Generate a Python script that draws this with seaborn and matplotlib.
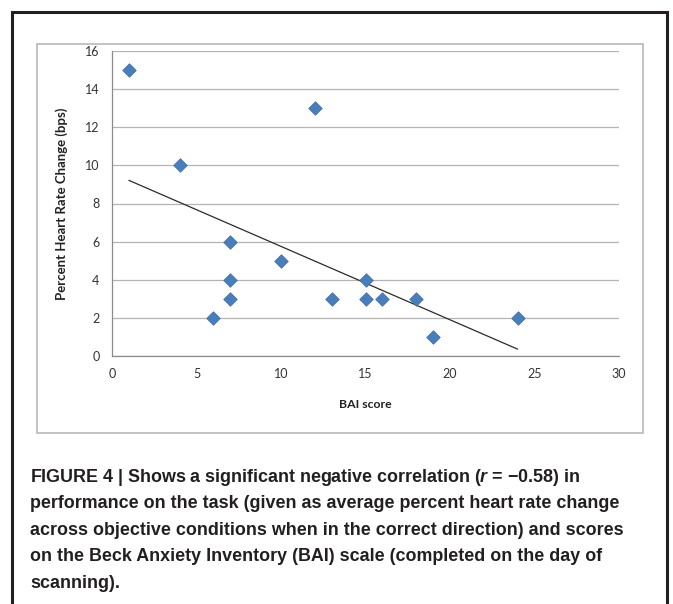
import numpy as np
import pandas as pd
import matplotlib
matplotlib.use("Agg")
import matplotlib.pyplot as plt
from matplotlib.patches import Rectangle
import seaborn as sns

# values
bai_score = [1, 4, 6, 7, 7, 7, 10, 12, 13, 15, 15, 16, 18, 19, 24]
hr_change = [15, 10, 2, 6, 4, 3, 5, 13, 3, 4, 3, 3, 3, 1, 2]
x_ticks = [0, 5, 10, 15, 20, 25, 30]
y_ticks = [0, 2, 4, 6, 8, 10, 12, 14, 16]
caption = [
    r"FIGURE 4 | Shows a significant negative correlation ($\mathit{r}$ = −0.58) in",
    "performance on the task (given as average percent heart rate change",
    "across objective conditions when in the correct direction) and scores",
    "on the Beck Anxiety Inventory (BAI) scale (completed on the day of",
    "scanning).",
]

df = pd.DataFrame({"BAI score": bai_score, "HR change": hr_change})

sns.set_style("white")
plt.rcParams["font.family"] = ["Lato", "DejaVu Sans"]
plt.rcParams["mathtext.fontset"] = "custom"
plt.rcParams["mathtext.it"] = "Liberation Sans:italic:bold"
plt.rcParams["mathtext.rm"] = "Liberation Sans:bold"

W, H = 673, 604
fig = plt.figure(figsize=(W / 100, H / 100), dpi=100)

# outer black frame and inner grey chart box (pixel coords -> figure fraction)
fig.patches.append(Rectangle((12 / W, -0.05), 655 / W, 1 - 12 / H + 0.05,
                             transform=fig.transFigure, fill=False,
                             edgecolor="#231f20", linewidth=2.2))
fig.patches.append(Rectangle((37 / W, 1 - 433 / H), 606 / W, 389 / H,
                             transform=fig.transFigure, fill=False,
                             edgecolor="#b8b8b8", linewidth=1.2))

ax = fig.add_axes([112 / W, 1 - 356 / H, 507 / W, 305 / H])
sns.scatterplot(data=df, x="BAI score", y="HR change", marker="D", s=48,
                color="#4a7ebb", edgecolor="#3f6fa8", linewidth=0.5, ax=ax, zorder=3)
sns.regplot(data=df, x="BAI score", y="HR change", scatter=False, ci=None,
            line_kws={"color": "#2b2b2b", "linewidth": 0.9}, ax=ax)

ax.set_xlim(0, 30)
ax.set_ylim(0, 16)
ax.set_xticks(x_ticks)
ax.set_yticks(y_ticks)
ax.tick_params(axis="both", labelsize=9, colors="#333333", length=4,
               width=0.8, direction="out", pad=5)
ax.tick_params(axis="x", color="#8c8c8c")
ax.tick_params(axis="y", color="#8c8c8c")
ax.yaxis.grid(True, color="#b4b4b4", linewidth=0.9)
ax.set_axisbelow(True)
for s in ["top", "right"]:
    ax.spines[s].set_visible(False)
for s in ["left", "bottom"]:
    ax.spines[s].set_color("#8c8c8c")
    ax.spines[s].set_linewidth(0.9)

ax.set_xlabel("BAI score", fontsize=8.8, fontweight="bold", color="#222222", labelpad=13)
ax.set_ylabel("Percent Heart Rate Change (bps)", fontsize=9.5, fontweight="bold",
              color="#222222", labelpad=12)

y0 = 477
for i, line in enumerate(caption):
    fig.text(30 / W, 1 - (y0 + i * 26.6) / H, line, fontsize=12.9, fontweight="bold",
             family=["Liberation Sans", "DejaVu Sans"], color="#231f20",
             va="center", ha="left")

fig.savefig("out.png", dpi=100, facecolor="white")
